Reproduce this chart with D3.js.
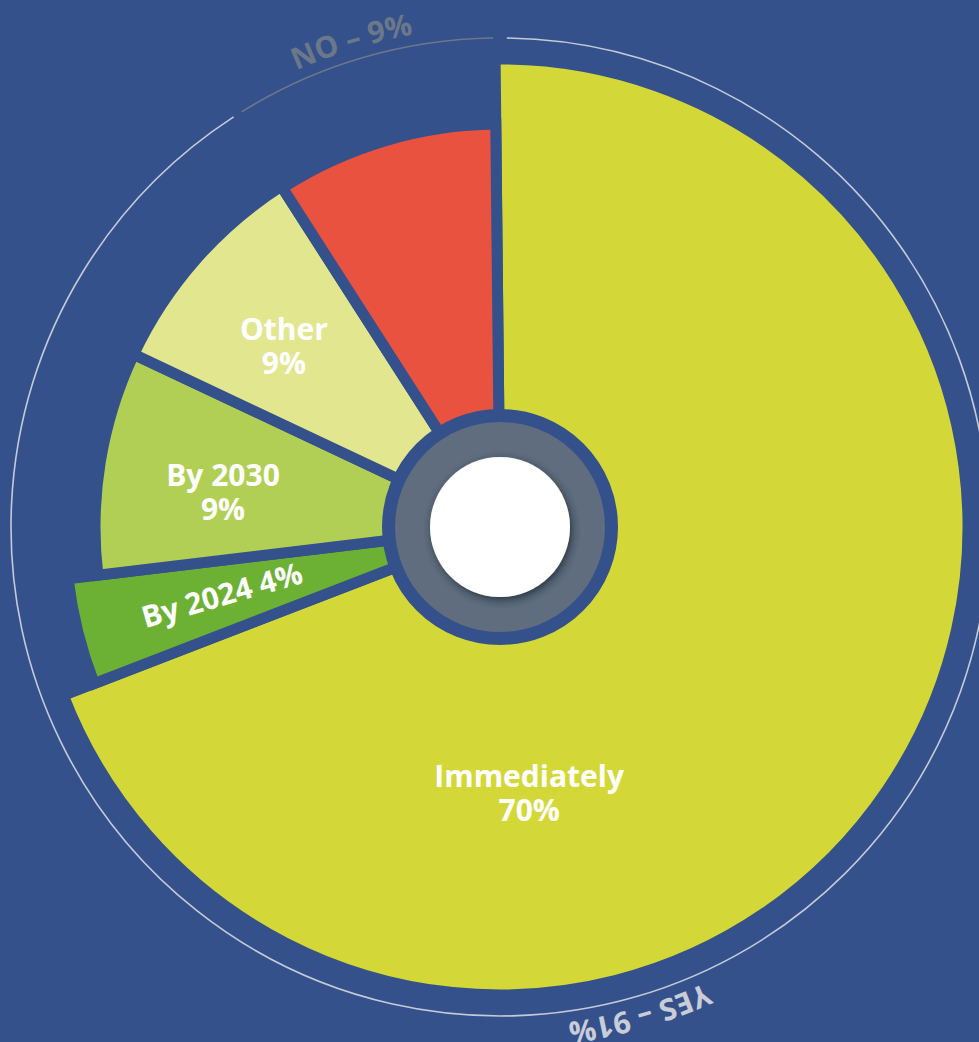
<!DOCTYPE html>
<html>
<head>
<meta charset="utf-8">
<script src="https://cdn.jsdelivr.net/npm/d3@7"></script>
<style>
  html, body { margin: 0; padding: 0; background: #34518b; }
  svg { display: block; }
</style>
</head>
<body>
<div id="chart"></div>
<script>
// Data
const categories = ["Immediately", "By 2024", "By 2030", "Other", "No"];
const values = [70, 4, 9, 9, 9];
const labelLines = [["Immediately", "70%"], ["By 2024 4%"], ["By 2030", "9%"], ["Other", "9%"], []];
const ringNames = ["YES – 91%", "NO – 9%"];
const ringValues = [91, 9];

// Styles
const colors = ["#d3d838", "#6cb134", "#b2cf55", "#e2e68f", "#ea5240"];
const sliceRadius = [468, 435, 405, 405, 403];
const bg = "#34518b";

const W = 979, H = 1042;
const cx = 500, cy = 527;
const deg = Math.PI / 180;
const rot = -0.6 * deg;

const svg = d3.select("#chart").append("svg")
  .attr("width", W)
  .attr("height", H);

svg.append("rect").attr("width", W).attr("height", H).attr("fill", bg);

const defs = svg.append("defs");
const shadow = defs.append("filter")
  .attr("id", "shadow")
  .attr("x", "-30%").attr("y", "-30%")
  .attr("width", "160%").attr("height", "160%");
shadow.append("feDropShadow")
  .attr("dx", 2).attr("dy", 3)
  .attr("stdDeviation", 4)
  .attr("flood-color", "#1f2733")
  .attr("flood-opacity", 0.8);

const g = svg.append("g").attr("transform", `translate(${cx},${cy})`);

// Pie slices
const pie = d3.pie().sort(null).value(d => d)
  .startAngle(rot).endAngle(2 * Math.PI + rot);
const arcs = pie(values);

const arc = d3.arc()
  .innerRadius(0)
  .outerRadius((d, i) => sliceRadius[i]);

g.selectAll("path.slice")
  .data(arcs)
  .join("path")
  .attr("class", "slice")
  .attr("d", (d, i) => arc(d, i))
  .attr("fill", (d, i) => colors[i])
  .attr("stroke", bg)
  .attr("stroke-width", 11)
  .attr("stroke-linejoin", "miter");

// Outer thin ring (YES / NO)
const ringPie = d3.pie().sort(null).value(d => d);
const ringArcs = ringPie(ringValues);
const ringR = 489;
const ringArc = d3.arc().innerRadius(ringR).outerRadius(ringR);
const ringColors = ["#c5cad7", "#6c7889"];
const ringPad = [[0.8, 0.6], [0.5, 0.8]];

g.selectAll("path.ring")
  .data(ringArcs)
  .join("path")
  .attr("class", "ring")
  .attr("d", (d, i) => ringArc({
    startAngle: d.startAngle + ringPad[i][0] * deg,
    endAngle: d.endAngle - ringPad[i][1] * deg
  }))
  .attr("fill", "none")
  .attr("stroke", (d, i) => ringColors[i])
  .attr("stroke-width", 1.6);

// Curved ring labels
const textR = 500;
const ringTextAngle = [164, 343];
const ringTextColor = ["#c9cdd8", "#6c7889"];

function circlePath(r, a0, a1) {
  const x0 = r * Math.sin(a0 * deg), y0 = -r * Math.cos(a0 * deg);
  const x1 = r * Math.sin(a1 * deg), y1 = -r * Math.cos(a1 * deg);
  return `M${x0},${y0} A${r},${r} 0 0 1 ${x1},${y1}`;
}

ringNames.forEach((name, i) => {
  const a = ringTextAngle[i];
  defs.append("path")
    .attr("id", "ringText" + i)
    .attr("d", circlePath(textR, a - 60, a + 60))
    .attr("transform", `translate(${cx},${cy})`);
  svg.append("text")
    .attr("font-family", "'Open Sans', sans-serif")
    .attr("font-weight", 700)
    .attr("font-size", 30)
    .attr("fill", ringTextColor[i])
    .append("textPath")
    .attr("href", "#ringText" + i)
    .attr("startOffset", "50%")
    .attr("text-anchor", "middle")
    .text(name);
});

// Center hub
g.append("circle")
  .attr("r", 111.5)
  .attr("fill", "#5f6d7e")
  .attr("stroke", bg)
  .attr("stroke-width", 13);

g.append("circle")
  .attr("r", 70)
  .attr("fill", "#ffffff")
  .attr("filter", "url(#shadow)");

// Slice labels (anchor = middle between baselines)
const labelSpec = [
  { angle: 174.0, r: 279, rotate: 0 },
  { angle: 254.1, r: 286, rotate: -16 },
  { angle: 274.9, r: 278, rotate: 0 },
  { angle: 308.2, r: 275, rotate: 0 },
  null
];
const lineH = 34;

arcs.forEach((d, i) => {
  const spec = labelSpec[i];
  const lines = labelLines[i];
  if (!spec || !lines.length) return;
  const a = spec.angle * deg;
  const x = spec.r * Math.sin(a);
  const y = -spec.r * Math.cos(a);
  const t = g.append("text")
    .attr("transform", `translate(${x},${y}) rotate(${spec.rotate})`)
    .attr("text-anchor", "middle")
    .attr("font-family", "'Open Sans', sans-serif")
    .attr("font-weight", 700)
    .attr("font-size", 30)
    .attr("fill", "#ffffff");
  const y0 = -(lines.length - 1) * lineH / 2;
  lines.forEach((line, j) => {
    t.append("tspan")
      .attr("x", 0)
      .attr("y", y0 + j * lineH)
      .text(line);
  });
});
</script>
</body>
</html>
